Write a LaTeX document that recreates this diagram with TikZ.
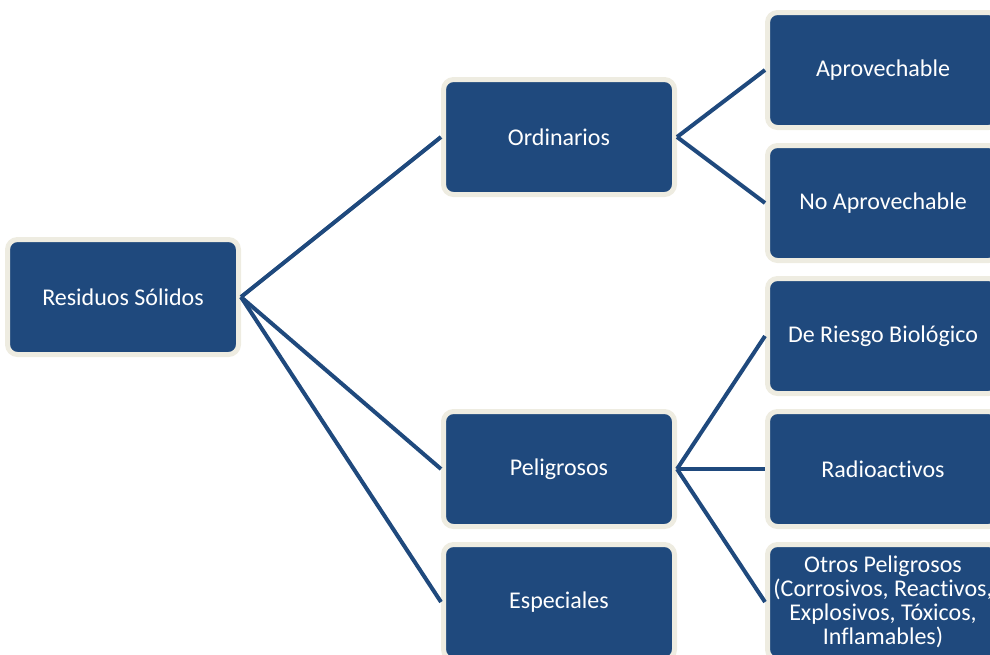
\documentclass[tikz,border=0pt]{standalone}
\usepackage{fontspec}
\setmainfont{Carlito}[Ligatures=NoCommon]
\usepackage{xcolor}
\usepackage{tikz}
\usetikzlibrary{positioning}

\definecolor{boxblue}{HTML}{1F497D}
\definecolor{boxrim}{HTML}{EEECE1}

\begin{document}
\begin{tikzpicture}[node distance=6.5pt, font=\fontsize{12}{12}\selectfont]
\tikzset{
  box/.style={draw=boxrim, fill=boxblue, text=white, align=center, line width=2.5pt, rounded corners=5pt, minimum width=115.5pt, minimum height=57.5pt, inner sep=1pt},
  branch/.style={draw=boxblue, line width=2pt},
}
\useasboundingbox (0,0) rectangle (495pt,-327pt);

% Root
\node (root) [box] at (61.5pt,-148.5pt) {Residuos Sólidos};

% Middle column
\node (ord) [box, right=100pt of root, yshift=80pt] {Ordinarios};
\node (pel) [box, below=106pt of ord] {Peligrosos};
\node (esp) [box, below=of pel] {Especiales};

% Right column
\node (rad) [box, right=44pt of pel] {Radioactivos};
\node (bio) [box, above=of rad] {De Riesgo Biológico};
\node (noapr) [box, above=of bio] {No Aprovechable};
\node (apr) [box, above=of noapr] {Aprovechable};
\node (otros) [box, below=of rad] {Otros Peligrosos\\(Corrosivos, Reactivos,\\Explosivos, Tóxicos,\\Inflamables)};

% Branches
\draw[branch] (root.east) -- (ord.west);
\draw[branch] (root.east) -- (pel.west);
\draw[branch] (root.east) -- (esp.west);
\draw[branch] (ord.east) -- (apr.west);
\draw[branch] (ord.east) -- (noapr.west);
\draw[branch] (pel.east) -- (bio.west);
\draw[branch] (pel.east) -- (rad.west);
\draw[branch] (pel.east) -- (otros.west);

\end{tikzpicture}
\end{document}
